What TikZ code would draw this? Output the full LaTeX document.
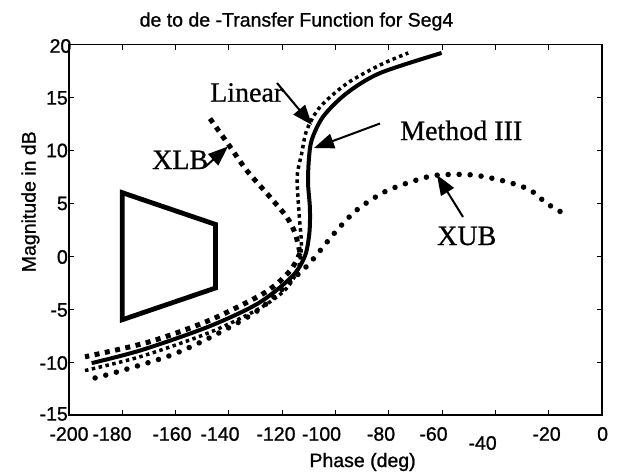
\documentclass[tikz,border=0pt]{standalone}
\usepackage{fontspec}
\setmainfont{Liberation Serif}[FakeBold=0.6]
\newfontfamily\axisfont{Liberation Sans}[FakeBold=1.0]
\usetikzlibrary{arrows.meta}
\begin{document}
\begin{tikzpicture}[x=1pt,y=-1pt,
  axlab/.style={font=\axisfont\fontsize{19.5}{22}\selectfont, inner sep=0pt},
  annot/.style={font=\fontsize{28}{32}\selectfont, inner sep=0pt, anchor=base west},
  pointer/.style={line width=2pt, -{Triangle[length=20pt,width=15pt]}},
  frame/.style={line width=1.3pt},
  tick/.style={line width=1pt},
  methodline/.style={line width=4pt, line join=round},
  linearline/.style={line width=3.5pt, dash pattern=on 3.5pt off 3.5pt},
  xlbline/.style={line width=5pt, dash pattern=on 5pt off 5.5pt},
  xubline/.style={line width=5.5pt, line cap=round, dash pattern=on 0pt off 11pt},
  trap/.style={line width=4.8pt, line join=miter}]
\useasboundingbox (0,0) rectangle (618,471);
\fill[white] (0,0) rectangle (618,471);

% frame and ticks
\draw[frame] (69,44.5) rectangle (602,415);
\foreach \X in {-180,-160,...,-20} {
  \draw[tick] (602+2.665*\X,415) -- ++(0,-5);
  \draw[tick] (602+2.665*\X,44.5) -- ++(0,5);
}
\foreach \Y in {-10,-5,...,15} {
  \draw[tick] (69,256.21-10.586*\Y) -- ++(5,0);
  \draw[tick] (602,256.21-10.586*\Y) -- ++(-5,0);
}

% tick labels
\foreach \t/\px/\py [count=\i] in {-200/69/434, -180/112/434, -160/172/434, -140/220/434, -120/276/434, -100/321.5/434, -80/381/434, -60/433.5/434, -40/482.6/443, -20/546.6/434, 0/602.6/434}
  \node[axlab] (xl\i) at (\px,\py) {\t};
\foreach \t/\px/\py [count=\i] in {20/71.5/46, 15/68/98, 10/68/150.5, 5/68/203.5, 0/68/257, -5/68/310, -10/68/363, -15/68/414}
  \node[axlab, anchor=east] (yl\i) at (\px,\py) {\t};

\node[axlab] (title) at (296.5,21.5) {de to de -Transfer Function for Seg4};
\node[axlab] (xlabel) at (362.6,462) {Phase (deg)};
\node[axlab, rotate=90] (ylabel) at (30.5,201.7) {Magnitude in dB};

% data
\begin{scope}[shift={(602,256.21)}, x=2.665pt, y=10.586pt]
  \draw[trap] (-180,6) -- (-145,3) -- (-145,-3) -- (-180,-6) -- cycle;
  \draw[xubline] plot[smooth, tension=0.5] coordinates {(-190.2,-11.5) (-181.5,-10.9) (-161.5,-9.33) (-145.2,-7.44) (-129,-5.1) (-116.4,-2.25) (-109.5,-0.6) (-100,2.3) (-92,4.37) (-81.4,6.1) (-69.5,7.2) (-61.4,7.67) (-48.3,7.67) (-35.8,7.04) (-27,6.25) (-20.8,5) (-14.5,4.05)};
  \draw[xlbline] plot[smooth, tension=0.5] coordinates {(-147.1,13.0) (-139.6,10.35) (-133.3,8.1) (-124.6,5.6) (-118.3,3.7) (-115.2,2.2) (-113.3,0.3)};
  \draw[xlbline] plot[smooth, tension=0.5] coordinates {(-113.3,0.3) (-116.5,-1.2) (-122,-2.6) (-129,-3.8) (-147.7,-6.1) (-170,-8.1) (-194,-9.5)};
  \draw[linearline] plot[smooth, tension=0.5] coordinates {(-194,-10.8) (-172.7,-9.45) (-147.7,-7.25) (-129,-5.0) (-119,-3.2) (-114,-1.2) (-112.8,1) (-113.5,3.5) (-114.2,6) (-114.3,7.8) (-112.7,9.7) (-110.8,11.9) (-105.8,14.1) (-95.8,16.3) (-83.3,18.06) (-72.7,19.2)};
  \draw[methodline] plot[smooth, tension=0.5] coordinates {(-191.5,-10.1) (-172.7,-8.86) (-147.7,-6.66) (-129,-4.45) (-116.4,-1.94) (-111.5,0) (-109.8,2.2) (-109.6,4.5) (-110.3,6.9) (-110,9.1) (-108.9,11) (-104.6,13.2) (-95.8,15.4) (-83.3,17.3) (-60.2,19.2)};
\end{scope}

% annotations
\node[annot] (linear) at (210,101.7) {Linear};
\node[annot] (method) at (400,140) {Method III};
\node[annot] (xlb) at (152,169) {XLB};
\node[annot] (xub) at (437,245) {XUB};

\coordinate (linTail) at (277,83);
\coordinate (linTip) at (312,125);
\coordinate (m3Tail) at (380,123.5);
\coordinate (m3Tip) at (314,148);
\coordinate (xlbTail) at (205,167);
\coordinate (xlbTip) at (228,146.5);
\coordinate (xubTail) at (463,217);
\coordinate (xubTip) at (437,175);

\draw[pointer] (linTail) -- (linTip);
\draw[pointer] (m3Tail) -- (m3Tip);
\draw[pointer] (xlbTail) -- (xlbTip);
\draw[pointer] (xubTail) -- (xubTip);
\end{tikzpicture}
\end{document}
